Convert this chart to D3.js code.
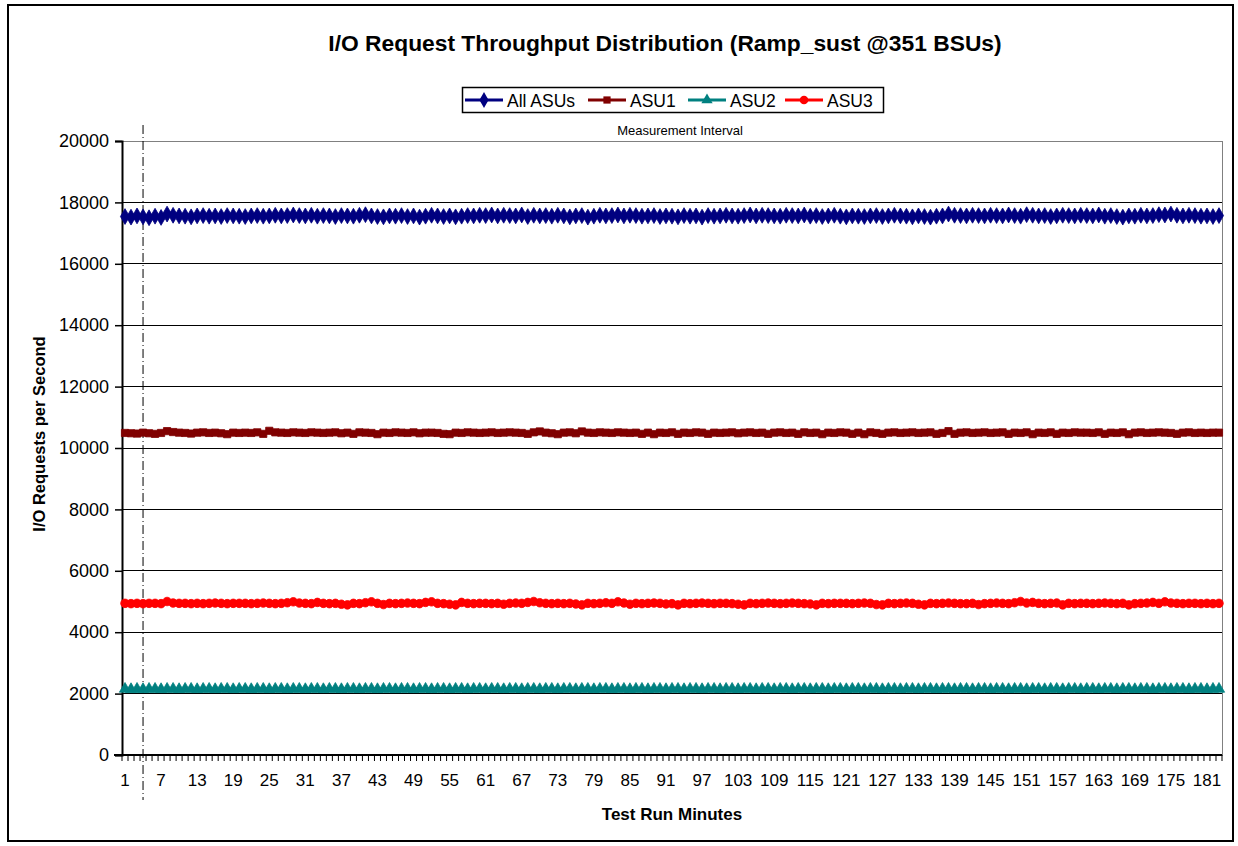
<!DOCTYPE html>
<html><head><meta charset="utf-8">
<script src="https://cdn.jsdelivr.net/npm/d3@7"></script>
<style>body{margin:0;background:#fff}svg{display:block}text{font-family:Arial,"Liberation Sans",sans-serif}</style>
</head><body>
<svg id="c" width="1238" height="846"></svg>
<script>
const title = "I/O Request Throughput Distribution (Ramp_sust @351 BSUs)";
const yTicks = [0,2000,4000,6000,8000,10000,12000,14000,16000,18000,20000];
const seriesNames = ["All ASUs","ASU1","ASU2","ASU3"];
const minutes = d3.range(1,184);
const xTickLabels = d3.range(1,184,6);
const measurementStart = 4;

const allASUs = [
17540,17520,17560,17530,17500,17550,17510,17620,17580,17560,17550,17530,17560,17570,17550,17560,17540,17570,17560,17550,
17540,17560,17570,17550,17560,17580,17560,17570,17590,17570,17560,17580,17550,17570,17560,17540,17570,17560,17550,17580,
17600,17560,17540,17530,17560,17550,17570,17540,17560,17520,17550,17580,17560,17540,17560,17530,17550,17570,17560,17580,
17570,17590,17560,17580,17570,17560,17590,17540,17580,17560,17570,17550,17580,17560,17530,17560,17570,17520,17550,17580,
17560,17570,17590,17560,17580,17570,17550,17560,17570,17540,17560,17550,17530,17570,17550,17560,17520,17570,17550,17560,
17580,17560,17550,17570,17590,17560,17580,17570,17560,17550,17580,17570,17560,17590,17550,17570,17540,17560,17580,17550,
17530,17560,17550,17540,17560,17570,17540,17560,17580,17560,17550,17530,17560,17540,17520,17550,17560,17620,17580,17570,
17560,17580,17570,17560,17580,17570,17560,17590,17570,17550,17600,17580,17560,17570,17540,17560,17580,17570,17560,17580,
17570,17560,17590,17550,17570,17540,17520,17560,17550,17580,17560,17570,17600,17590,17620,17580,17560,17580,17570,17550,
17560,17540,17570];
const asu1 = [
10490,10480,10470,10500,10480,10460,10490,10550,10520,10500,10490,10470,10500,10510,10490,10500,10480,10450,10500,10490,
10500,10490,10510,10460,10560,10510,10500,10490,10510,10500,10490,10510,10500,10490,10500,10510,10480,10500,10460,10510,
10500,10490,10450,10500,10490,10510,10500,10490,10510,10480,10500,10500,10490,10460,10450,10500,10490,10510,10500,10490,
10500,10510,10490,10500,10510,10500,10490,10460,10510,10540,10500,10480,10450,10500,10510,10480,10540,10500,10490,10510,
10500,10490,10510,10500,10490,10500,10460,10500,10450,10500,10490,10510,10460,10500,10490,10510,10500,10460,10500,10490,
10500,10510,10480,10500,10510,10490,10500,10460,10500,10510,10490,10500,10460,10510,10490,10500,10450,10500,10490,10510,
10500,10460,10500,10450,10510,10490,10460,10500,10510,10490,10500,10510,10490,10500,10510,10460,10490,10550,10460,10500,
10510,10490,10500,10510,10490,10500,10510,10460,10500,10490,10510,10450,10500,10490,10510,10460,10500,10490,10510,10500,
10500,10490,10510,10460,10500,10490,10510,10450,10500,10510,10490,10500,10510,10500,10490,10460,10500,10510,10490,10500,
10490,10500,10500];
const asu2 = [
2150,2140,2150,2140,2150,2150,2140,2150,2150,2140,2150,2150,2140,2150,2150,2140,2150,2150,2140,2150,
2150,2140,2150,2150,2140,2150,2150,2140,2150,2150,2140,2150,2150,2140,2150,2150,2140,2150,2150,2140,
2150,2150,2140,2150,2150,2140,2150,2150,2140,2150,2150,2140,2150,2150,2140,2150,2150,2140,2150,2150,
2140,2150,2150,2140,2150,2150,2140,2150,2150,2140,2150,2150,2140,2150,2150,2140,2150,2150,2140,2150,
2150,2140,2150,2150,2140,2150,2150,2140,2150,2150,2140,2150,2150,2140,2150,2150,2140,2150,2150,2140,
2150,2150,2140,2150,2150,2140,2150,2150,2140,2150,2150,2140,2150,2150,2140,2150,2150,2140,2150,2150,
2140,2150,2150,2140,2150,2150,2140,2150,2150,2140,2150,2150,2140,2150,2150,2140,2150,2150,2140,2150,
2150,2140,2150,2150,2140,2150,2150,2140,2150,2150,2140,2150,2150,2140,2150,2150,2140,2150,2150,2140,
2150,2150,2140,2150,2150,2140,2150,2150,2140,2150,2150,2140,2150,2150,2140,2150,2150,2140,2150,2150,
2140,2150,2150];
const asu3 = [
4940,4930,4940,4930,4940,4940,4930,5000,4950,4940,4940,4930,4940,4930,4940,4950,4940,4930,4940,4940,
4940,4930,4940,4950,4940,4930,4940,4960,4990,4950,4940,4930,4970,4940,4930,4940,4910,4890,4940,4930,
4960,4990,4940,4900,4940,4930,4940,4950,4940,4930,4970,4990,4940,4930,4910,4890,4970,4940,4930,4940,
4940,4930,4940,4910,4940,4950,4940,4970,5000,4960,4940,4930,4940,4930,4940,4920,4890,4940,4930,4940,
4960,4940,4990,4950,4910,4940,4930,4940,4950,4940,4920,4930,4890,4940,4930,4940,4950,4940,4930,4940,
4940,4930,4910,4890,4940,4930,4940,4950,4940,4930,4940,4950,4940,4930,4920,4890,4940,4930,4940,4940,
4940,4930,4940,4950,4940,4900,4890,4940,4930,4940,4950,4940,4910,4890,4940,4930,4940,4950,4940,4930,
4930,4940,4900,4930,4940,4950,4940,4930,4960,5000,4950,4970,4940,4930,4940,4950,4890,4940,4930,4940,
4940,4930,4940,4950,4940,4930,4940,4890,4930,4940,4950,4970,4940,4990,4950,4940,4930,4940,4940,4930,
4940,4930,4940];

const colors = ["#000080","#800000","#008080","#FF0000"];
const symbols = [d3.symbolDiamond, d3.symbolSquare, d3.symbolTriangle, d3.symbolCircle];
const symSizes = [72, 52, 55, 58];
const data = [allASUs, asu1, asu2, asu3];

const svg = d3.select("#c");
const L = 122, R = 1222, T = 141, B = 755;

svg.append("rect").attr("x",8).attr("y",5).attr("width",1225).attr("height",836)
  .attr("fill","#fff").attr("stroke","#000").attr("stroke-width",2);

const x = d3.scaleBand().domain(minutes).range([L,R]).paddingInner(0).paddingOuter(0);
const y = d3.scaleLinear().domain([0,20000]).range([B,T]);

// gridlines
svg.append("g").selectAll("line").data(yTicks.filter(d=>d>0)).join("line")
  .attr("x1",L).attr("x2",R).attr("y1",d=>y(d)).attr("y2",d=>y(d))
  .attr("stroke","#000").attr("stroke-width",1).attr("shape-rendering","crispEdges");

// plot border (gray)
svg.append("rect").attr("x",L).attr("y",T).attr("width",R-L).attr("height",B-T)
  .attr("fill","none").attr("stroke","#808080").attr("stroke-width",1).attr("shape-rendering","crispEdges");

// y axis
const yAxis = svg.append("g").attr("transform",`translate(${L},0)`)
  .call(d3.axisLeft(y).tickValues(yTicks).tickSize(7).tickPadding(6).tickFormat(d3.format("d")));
yAxis.select(".domain").attr("stroke","#000").attr("stroke-width",2);
yAxis.selectAll(".tick line").attr("stroke","#000").attr("stroke-width",1.5);
yAxis.selectAll("text").attr("font-size",18).attr("fill","#000").attr("font-family","Arial, Liberation Sans");

// x axis: ticks at category boundaries
const xg = svg.append("g");
const bounds = minutes.map(m=>x(m)).concat([R]);
xg.selectAll("line.t").data(bounds).join("line").attr("class","t")
  .attr("x1",d=>d).attr("x2",d=>d).attr("y1",B).attr("y2",B+6)
  .attr("stroke","#000").attr("stroke-width",1);
xg.append("line").attr("x1",L-8).attr("x2",R).attr("y1",B).attr("y2",B).attr("stroke","#000").attr("stroke-width",2);
xg.selectAll("text").data(xTickLabels).join("text")
  .attr("x",d=>x(d)+x.bandwidth()/2).attr("y",786).attr("text-anchor","middle")
  .attr("font-size",17).attr("fill","#000").text(d=>d);

// measurement interval line
const mx = x(measurementStart)+x.bandwidth()/2;
svg.append("line").attr("x1",mx).attr("x2",mx).attr("y1",125).attr("y2",800)
  .attr("stroke","#000").attr("stroke-width",1).attr("stroke-dasharray","9,3,1,3");
svg.append("text").attr("x",680).attr("y",135).attr("text-anchor","middle")
  .attr("font-size",13).attr("fill","#000").text("Measurement Interval");

// series
const line = d3.line().x((d,i)=>x(minutes[i])+x.bandwidth()/2).y(d=>y(d));
data.forEach((vals,k)=>{
  const g = svg.append("g");
  g.append("path").datum(vals).attr("d",line).attr("fill","none")
    .attr("stroke",colors[k]).attr("stroke-width",3);
  g.selectAll("path.m").data(vals).join("path").attr("class","m")
    .attr("transform",(d,i)=>`translate(${x(minutes[i])+x.bandwidth()/2},${y(d)})`)
    .attr("d",d3.symbol().type(symbols[k]).size(symSizes[k])())
    .attr("fill",colors[k]).attr("stroke",colors[k]).attr("stroke-width",0.8);
});

// title
svg.append("text").attr("x",665).attr("y",51).attr("text-anchor","middle")
  .attr("font-size",22.8).attr("font-weight","bold").attr("fill","#000").text(title);

// axis titles
svg.append("text").attr("x",672).attr("y",820).attr("text-anchor","middle")
  .attr("font-size",17).attr("font-weight","bold").text("Test Run Minutes");
svg.append("text").attr("transform","translate(45,434) rotate(-90)").attr("text-anchor","middle")
  .attr("font-size",16.5).attr("font-weight","bold").text("I/O Requests per Second");

// legend
const lg = svg.append("g");
lg.append("rect").attr("x",462.5).attr("y",87.5).attr("width",421).attr("height",25)
  .attr("fill","#fff").attr("stroke","#000").attr("stroke-width",1.5);
const legX = [465, 588, 688, 785];
seriesNames.forEach((n,k)=>{
  const x0 = legX[k];
  lg.append("line").attr("x1",x0).attr("x2",x0+38).attr("y1",100).attr("y2",100)
    .attr("stroke",colors[k]).attr("stroke-width",3);
  lg.append("path").attr("transform",`translate(${x0+19},100)`)
    .attr("d",d3.symbol().type(symbols[k]).size(symSizes[k])()).attr("fill",colors[k]);
  lg.append("text").attr("x",x0+42).attr("y",106.5).attr("font-size",17.5).attr("fill","#000").text(n);
});
</script>
</body></html>
